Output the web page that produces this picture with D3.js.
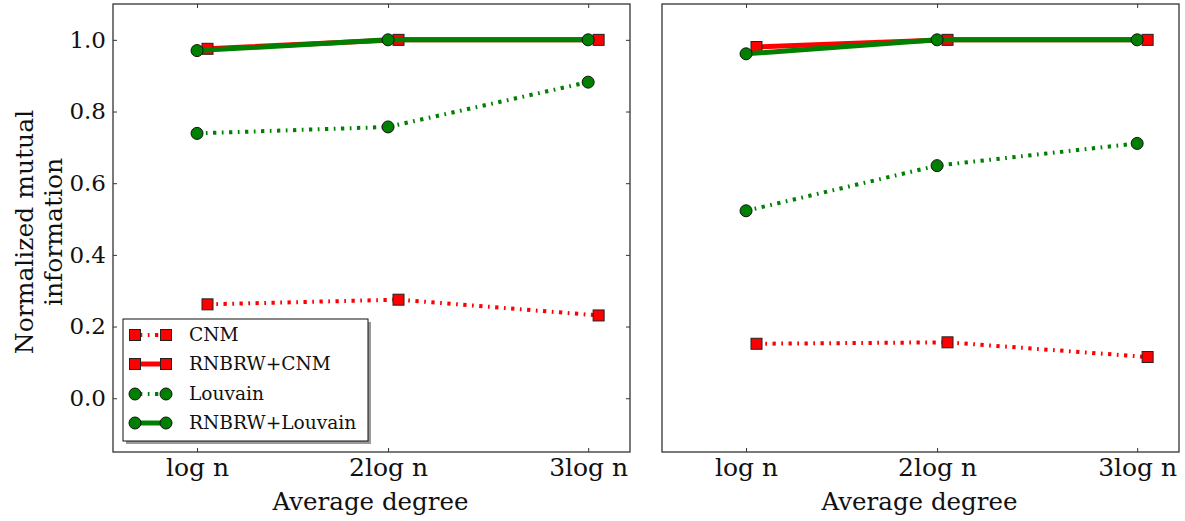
<!DOCTYPE html>
<html>
<head>
<meta charset="utf-8">
<script src="https://cdn.jsdelivr.net/npm/d3@7"></script>
<style>
  html, body { margin: 0; padding: 0; background: #fff; }
  svg { display: block; }
  svg text { font-family: "DejaVu Serif", serif; fill: #111; }
</style>
</head>
<body>
<svg id="chart" width="1185" height="521"></svg>
<script>
// ---- data ----
const categories = ["log n", "2log n", "3log n"];
const xValues = [21, 42, 64];
const squareOffset = 1.15;
const yTickValues = [0.0, 0.2, 0.4, 0.6, 0.8, 1.0];
const yTickLabels = ["0.0", "0.2", "0.4", "0.6", "0.8", "1.0"];
const seriesNames = ["CNM", "RNBRW+CNM", "Louvain", "RNBRW+Louvain"];

const leftCNM = [0.262, 0.275, 0.231];
const leftRNBRWCNM = [0.975, 1.0, 1.0];
const leftLouvain = [0.739, 0.757, 0.882];
const leftRNBRWLouvain = [0.970, 1.0, 1.0];

const rightCNM = [0.152, 0.156, 0.115];
const rightRNBRWCNM = [0.980, 1.0, 1.0];
const rightLouvain = [0.523, 0.649, 0.711];
const rightRNBRWLouvain = [0.961, 1.0, 1.0];

// ---- styles ----
const styles = [
  { color: "#ff0000", marker: "square", dash: "3.3,5.5,1.7,5.5", width: 4 },
  { color: "#ff0000", marker: "square", dash: null, width: 5 },
  { color: "#008000", marker: "circle", dash: "3.3,5.5,1.7,5.5", width: 4 },
  { color: "#008000", marker: "circle", dash: null, width: 5 }
];

const svg = d3.select("#chart");
const plotTop = 4, plotBottom = 452;
const panels = [
  { left: 113, right: 630, data: [leftCNM, leftRNBRWCNM, leftLouvain, leftRNBRWLouvain], yLabels: true, legend: true },
  { left: 662, right: 1179, data: [rightCNM, rightRNBRWCNM, rightLouvain, rightRNBRWLouvain], yLabels: false, legend: false }
];

const y = d3.scaleLinear().domain([-0.15, 1.1]).range([plotBottom, plotTop]);

function drawMarker(g, type, cx, cy, color) {
  if (type === "square") {
    g.append("rect").attr("x", cx - 5.5).attr("y", cy - 5.5).attr("width", 11).attr("height", 11)
      .attr("fill", color).attr("stroke", "#222").attr("stroke-width", 1);
  } else {
    g.append("circle").attr("cx", cx).attr("cy", cy).attr("r", 6)
      .attr("fill", color).attr("stroke", "#111").attr("stroke-width", 1);
  }
}

panels.forEach(p => {
  const x = d3.scaleLinear().domain([11.76, 68.6]).range([p.left, p.right]);
  const g = svg.append("g");

  // bottom axis labels
  const xb = d3.axisBottom(x).tickValues(xValues).tickFormat((d, i) => categories[i]).tickSize(-4).tickPadding(6);
  const gx = g.append("g").attr("transform", `translate(0,${plotBottom})`).call(xb);
  gx.select(".domain").remove();
  gx.selectAll("line").attr("stroke", "#333");
  gx.selectAll("text").attr("font-size", 25).attr("fill", "#111");

  // top ticks
  const xt = d3.axisTop(x).tickValues(xValues).tickFormat("").tickSize(-4);
  const gxt = g.append("g").attr("transform", `translate(0,${plotTop})`).call(xt);
  gxt.select(".domain").remove();
  gxt.selectAll("line").attr("stroke", "#333");

  if (p.yLabels) {
    const yl = d3.axisLeft(y).tickValues(yTickValues).tickFormat((d, i) => yTickLabels[i]).tickSize(-4).tickPadding(7);
    const gy = g.append("g").attr("transform", `translate(${p.left},0)`).call(yl);
    gy.select(".domain").remove();
    gy.selectAll("line").attr("stroke", "#333");
    gy.selectAll("text").attr("font-size", 23).attr("fill", "#111");
    const yr = d3.axisRight(y).tickValues(yTickValues).tickFormat("").tickSize(-4);
    const gyr = g.append("g").attr("transform", `translate(${p.right},0)`).call(yr);
    gyr.select(".domain").remove();
    gyr.selectAll("line").attr("stroke", "#333");
  }

  // series
  p.data.forEach((vals, si) => {
    const st = styles[si];
    const off = st.marker === "square" ? squareOffset : 0;
    const pts = vals.map((v, i) => [x(xValues[i] + off), y(v)]);
    const line = d3.line();
    const path = g.append("path").attr("d", line(pts)).attr("fill", "none")
      .attr("stroke", st.color).attr("stroke-width", st.width).attr("stroke-linejoin", "round");
    if (st.dash) path.attr("stroke-dasharray", st.dash);
    pts.forEach(pt => drawMarker(g, st.marker, pt[0], pt[1], st.color));
  });

  // frame
  g.append("rect").attr("x", p.left).attr("y", plotTop).attr("width", p.right - p.left).attr("height", plotBottom - plotTop)
    .attr("fill", "none").attr("stroke", "#333").attr("stroke-width", 1.3);

  // x label
  g.append("text").attr("x", (p.left + p.right) / 2 - 1).attr("y", 510).attr("text-anchor", "middle")
    .attr("font-size", 24.5).text("Average degree");

  if (p.legend) {
    const lg = g.append("g");
    const lx = 123, ly = 319, lw = 245, lh = 122;
    lg.append("rect").attr("x", lx + 3).attr("y", ly + 3).attr("width", lw).attr("height", lh).attr("fill", "#999");
    lg.append("rect").attr("x", lx).attr("y", ly).attr("width", lw).attr("height", lh)
      .attr("fill", "#fff").attr("stroke", "#111").attr("stroke-width", 1);
    const rowY = [335, 364, 394, 423];
    seriesNames.forEach((name, i) => {
      const st = styles[i];
      const x1 = 135, x2 = 166, cy = rowY[i];
      const ln = lg.append("line").attr("x1", x1).attr("x2", x2).attr("y1", cy).attr("y2", cy)
        .attr("stroke", st.color).attr("stroke-width", st.width);
      if (st.dash) ln.attr("stroke-dasharray", st.dash).attr("stroke-dashoffset", -4);
      drawMarker(lg, st.marker, x1, cy, st.color);
      drawMarker(lg, st.marker, x2, cy, st.color);
      lg.append("text").attr("x", 189).attr("y", cy + 6).attr("font-size", 18.6).text(name);
    });
  }
});

// y label
const ylab = svg.append("text").attr("transform", `translate(0,232) rotate(-90)`).attr("text-anchor", "middle").attr("font-size", 25);
ylab.append("tspan").attr("x", 0).attr("y", 33).text("Normalized mutual");
ylab.append("tspan").attr("x", 0).attr("y", 62).text("information");
</script>
</body>
</html>
